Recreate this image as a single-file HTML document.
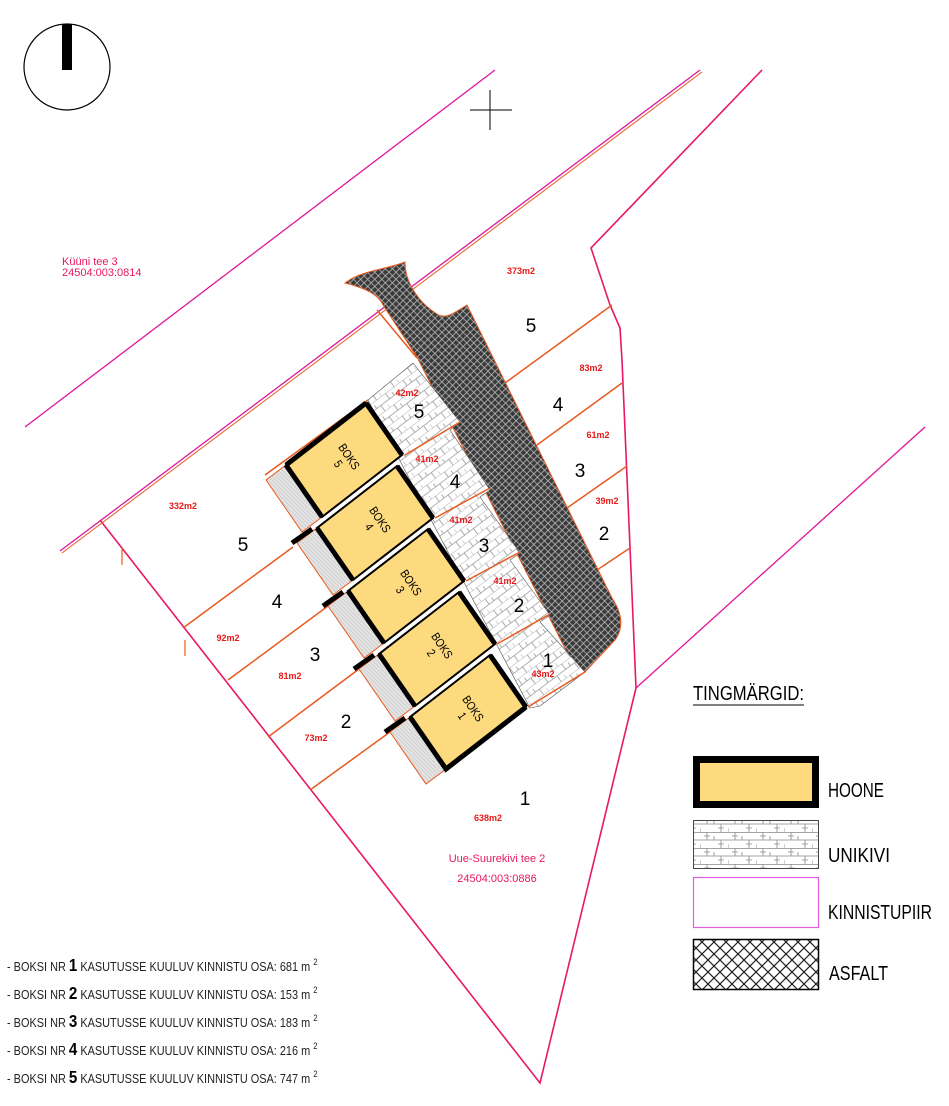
<!DOCTYPE html>
<html><head><meta charset="utf-8"><style>
html,body{margin:0;padding:0;background:#fff;}
svg{display:block;}
.n{font-family:"Liberation Sans Narrow","Liberation Sans",sans-serif;}
</style></head><body>
<svg width="949" height="1106" viewBox="0 0 949 1106" xmlns="http://www.w3.org/2000/svg">
<defs>
<pattern id="brick" width="22" height="14" patternUnits="userSpaceOnUse" patternTransform="rotate(-37)">
<rect width="22" height="14" fill="#fff"/>
<path d="M0 0H22M0 7H22M5 0V7M16 7V14M11 3V7M0 10V14" stroke="#999" stroke-width="0.8" fill="none"/>
</pattern>
<pattern id="brick2" width="28" height="16" patternUnits="userSpaceOnUse">
<rect width="28" height="16" fill="#fff"/>
<path d="M0 0.5H28M0 8H28M7 0V8M21 8V16M14 4V8M0 12V16M4 4H10M18 12H24" stroke="#888" stroke-width="0.8" fill="none"/>
</pattern>
<pattern id="asph" width="5" height="5" patternUnits="userSpaceOnUse" patternTransform="rotate(45)">
<rect width="5" height="5" fill="#3a3a3a"/>
<path d="M0 2.5H5M2.5 0V5" stroke="#bbb" stroke-width="0.8"/>
</pattern>
<pattern id="grey" width="4" height="4" patternUnits="userSpaceOnUse">
<rect width="4" height="4" fill="#e2e2e2"/>
<path d="M0 0L4 4" stroke="#c8c8c8" stroke-width="0.6"/>
</pattern>
<pattern id="lasph" width="12" height="12" patternUnits="userSpaceOnUse">
<rect width="12" height="12" fill="#fff"/>
<path d="M0 0L12 12M12 0L0 12" stroke="#222" stroke-width="1.2"/>
</pattern>
</defs>

<circle cx="67" cy="67" r="43" fill="none" stroke="#000" stroke-width="1.2"/>
<rect x="62" y="24" width="10" height="46" fill="#000"/>
<path d="M470 110H512M490 90V130" stroke="#000" stroke-width="1"/>

<g stroke="#e0159a" stroke-width="1.3" fill="none">
<line x1="25" y1="427" x2="495" y2="70"/>
<line x1="60" y1="551" x2="700" y2="70"/>
<line x1="925" y1="427" x2="636" y2="688"/>
</g>
<g stroke="#e8176a" stroke-width="1.6" fill="none">
<polyline points="762,70 591,248 610,305 620,328 622,360 636,688 540,1083 100,520"/>
</g>
<line x1="62" y1="553" x2="702" y2="72" stroke="#e85a20" stroke-width="1"/>
<path d="M122 548V565M185 640V656" stroke="#e85a20" stroke-width="1.2"/>

<path d="M345 283 C365 288 378 294 383 305 L417 357 L577 672 L585 672 L615 640 Q628 622 612 598 L467 305 C455 312 447 320 437 314 C418 302 405 282 405 262 C385 270 362 270 345 283 Z" fill="url(#asph)" stroke="#e85a20" stroke-width="1"/>

<path d="M368 400 L413 363 L460 422 L450 430 L490 490 L480 497 L520 553 L510 560 L550 615 L540 622 L585 672 L540 706 L530 708 Z" fill="url(#brick)" stroke="#555" stroke-width="0.6"/>

<g stroke="#e85a20" stroke-width="1.5" fill="none">
<line x1="377" y1="310" x2="417" y2="358"/>
<line x1="505" y1="383" x2="612" y2="305"/>
<line x1="537" y1="445" x2="622" y2="383"/>
<line x1="567" y1="508" x2="627" y2="466"/>
<line x1="597" y1="570" x2="630" y2="548"/>
<line x1="405" y1="455" x2="460" y2="422"/>
<line x1="435" y1="518" x2="490" y2="488"/>
<line x1="466" y1="581" x2="520" y2="552"/>
<line x1="497" y1="644" x2="550" y2="614"/>
<line x1="528" y1="707" x2="585" y2="672"/>
<line x1="293" y1="547" x2="183" y2="628"/>
<line x1="328" y1="606" x2="228" y2="680"/>
<line x1="359" y1="669" x2="268" y2="737"/>
<line x1="390" y1="732" x2="310" y2="790"/>
<line x1="265" y1="475" x2="368" y2="400"/>
</g>

<g>
<polygon points="390,732 426,784 446,769 410,717" fill="url(#grey)" stroke="#e85a20" stroke-width="1"/>
<polygon points="359,669 395,721 415,706 379,654" fill="url(#grey)" stroke="#e85a20" stroke-width="1"/>
<polygon points="328,606 364,658 384,643 348,591" fill="url(#grey)" stroke="#e85a20" stroke-width="1"/>
<polygon points="297,543 333,595 353,580 317,528" fill="url(#grey)" stroke="#e85a20" stroke-width="1"/>
<polygon points="266,480 302,532 322,517 286,465" fill="url(#grey)" stroke="#e85a20" stroke-width="1"/>
<g fill="#fdda7e" stroke="#000" stroke-width="2">
<polygon points="410,717 446,769 526,707 490,655"/>
<polygon points="379,654 415,706 495,644 459,592"/>
<polygon points="348,591 384,643 464,581 428,529"/>
<polygon points="317,528 353,580 433,518 397,466"/>
<polygon points="286,465 322,517 402,455 366,403"/>
</g>
<g stroke="#000" stroke-width="5" fill="none">
<polyline points="410,717 446,769 526,707"/>
<polyline points="379,654 415,706"/>
<polyline points="348,591 384,643"/>
<polyline points="317,528 353,580"/>
<polyline points="286,465 322,517"/>
<line x1="286" y1="465" x2="366" y2="403"/>
<line x1="526" y1="707" x2="490" y2="655"/>
<line x1="495" y1="644" x2="459" y2="592"/>
<line x1="464" y1="581" x2="428" y2="529"/>
<line x1="433" y1="518" x2="397" y2="466"/>
<line x1="402" y1="455" x2="366" y2="403"/>
<line x1="385" y1="732" x2="405" y2="718"/>
<line x1="354" y1="669" x2="374" y2="655"/>
<line x1="323" y1="606" x2="343" y2="592"/>
<line x1="292" y1="543" x2="312" y2="529"/>
</g>
</g>

<g class="n" font-size="12" fill="#000" text-anchor="middle">
<text transform="translate(468,712) rotate(56) scale(0.85,1)"><tspan x="0" y="-2">BOKS</tspan><tspan x="0" y="11">1</tspan></text>
<text transform="translate(437,649) rotate(56) scale(0.85,1)"><tspan x="0" y="-2">BOKS</tspan><tspan x="0" y="11">2</tspan></text>
<text transform="translate(406,586) rotate(56) scale(0.85,1)"><tspan x="0" y="-2">BOKS</tspan><tspan x="0" y="11">3</tspan></text>
<text transform="translate(375,523) rotate(56) scale(0.85,1)"><tspan x="0" y="-2">BOKS</tspan><tspan x="0" y="11">4</tspan></text>
<text transform="translate(344,460) rotate(56) scale(0.85,1)"><tspan x="0" y="-2">BOKS</tspan><tspan x="0" y="11">5</tspan></text>
</g>

<g font-family="Liberation Sans, sans-serif" font-size="9" font-weight="bold" fill="#e81818" text-anchor="middle">
<text x="521" y="274">373m2</text>
<text x="591" y="371">83m2</text>
<text x="598" y="438">61m2</text>
<text x="607" y="504">39m2</text>
<text x="183" y="509">332m2</text>
<text x="228" y="641">92m2</text>
<text x="290" y="679">81m2</text>
<text x="316" y="741">73m2</text>
<text x="488" y="821">638m2</text>
<text x="407" y="396">42m2</text>
<text x="427" y="462">41m2</text>
<text x="461" y="523">41m2</text>
<text x="505" y="584">41m2</text>
<text x="543" y="677">43m2</text>
</g>
<g class="n" font-size="19" fill="#000" text-anchor="middle">
<text x="531" y="332">5</text>
<text x="558" y="411">4</text>
<text x="580" y="477">3</text>
<text x="604" y="540">2</text>
<text x="243" y="551">5</text>
<text x="277" y="608">4</text>
<text x="315" y="661">3</text>
<text x="346" y="728">2</text>
<text x="525" y="805">1</text>
<text x="419" y="418">5</text>
<text x="455" y="488">4</text>
<text x="484" y="552">3</text>
<text x="519" y="612">2</text>
<text x="548" y="667">1</text>
</g>

<g font-family="Liberation Sans, sans-serif" font-size="11" fill="#e8175d">
<text x="62" y="265">Küüni tee 3</text>
<text x="62" y="276">24504:003:0814</text>
<text x="497" y="862" text-anchor="middle">Uue-Suurekivi tee 2</text>
<text x="497" y="882" text-anchor="middle">24504:003:0886</text>
</g>

<g class="n" fill="#000">
<text x="693" y="700" font-size="20" textLength="111" lengthAdjust="spacingAndGlyphs">TINGMÄRGID:</text>
<line x1="693" y1="705" x2="804" y2="705" stroke="#000" stroke-width="1"/>
<rect x="696.5" y="759.5" width="119" height="45" fill="#fdda7e" stroke="#000" stroke-width="7"/>
<rect x="693.5" y="820.5" width="125" height="48" fill="url(#brick2)" stroke="#444" stroke-width="1"/>
<rect x="693.5" y="877.5" width="125" height="50" fill="#fff" stroke="#e060e0" stroke-width="1.2"/>
<rect x="693.5" y="939.5" width="125" height="50" fill="url(#lasph)" stroke="#000" stroke-width="1.5"/>
<text x="828" y="797" font-size="20" textLength="56" lengthAdjust="spacingAndGlyphs">HOONE</text>
<text x="828" y="862" font-size="20" textLength="62" lengthAdjust="spacingAndGlyphs">UNIKIVI</text>
<text x="828" y="919" font-size="20" textLength="104" lengthAdjust="spacingAndGlyphs">KINNISTUPIIR</text>
<text x="829" y="980" font-size="20" textLength="59" lengthAdjust="spacingAndGlyphs">ASFALT</text>
</g>

<g class="n" font-size="13" fill="#222" transform="translate(7,0) scale(0.84,1)">
<text x="0" y="971">- BOKSI NR <tspan font-size="18" font-weight="bold" fill="#000">1</tspan> KASUTUSSE KUULUV KINNISTU OSA: 681 m <tspan font-size="9" dy="-6">2</tspan></text>
<text x="0" y="999">- BOKSI NR <tspan font-size="18" font-weight="bold" fill="#000">2</tspan> KASUTUSSE KUULUV KINNISTU OSA: 153 m <tspan font-size="9" dy="-6">2</tspan></text>
<text x="0" y="1027">- BOKSI NR <tspan font-size="18" font-weight="bold" fill="#000">3</tspan> KASUTUSSE KUULUV KINNISTU OSA: 183 m <tspan font-size="9" dy="-6">2</tspan></text>
<text x="0" y="1055">- BOKSI NR <tspan font-size="18" font-weight="bold" fill="#000">4</tspan> KASUTUSSE KUULUV KINNISTU OSA: 216 m <tspan font-size="9" dy="-6">2</tspan></text>
<text x="0" y="1083">- BOKSI NR <tspan font-size="18" font-weight="bold" fill="#000">5</tspan> KASUTUSSE KUULUV KINNISTU OSA: 747 m <tspan font-size="9" dy="-6">2</tspan></text>
</g>
</svg>
</body></html>
